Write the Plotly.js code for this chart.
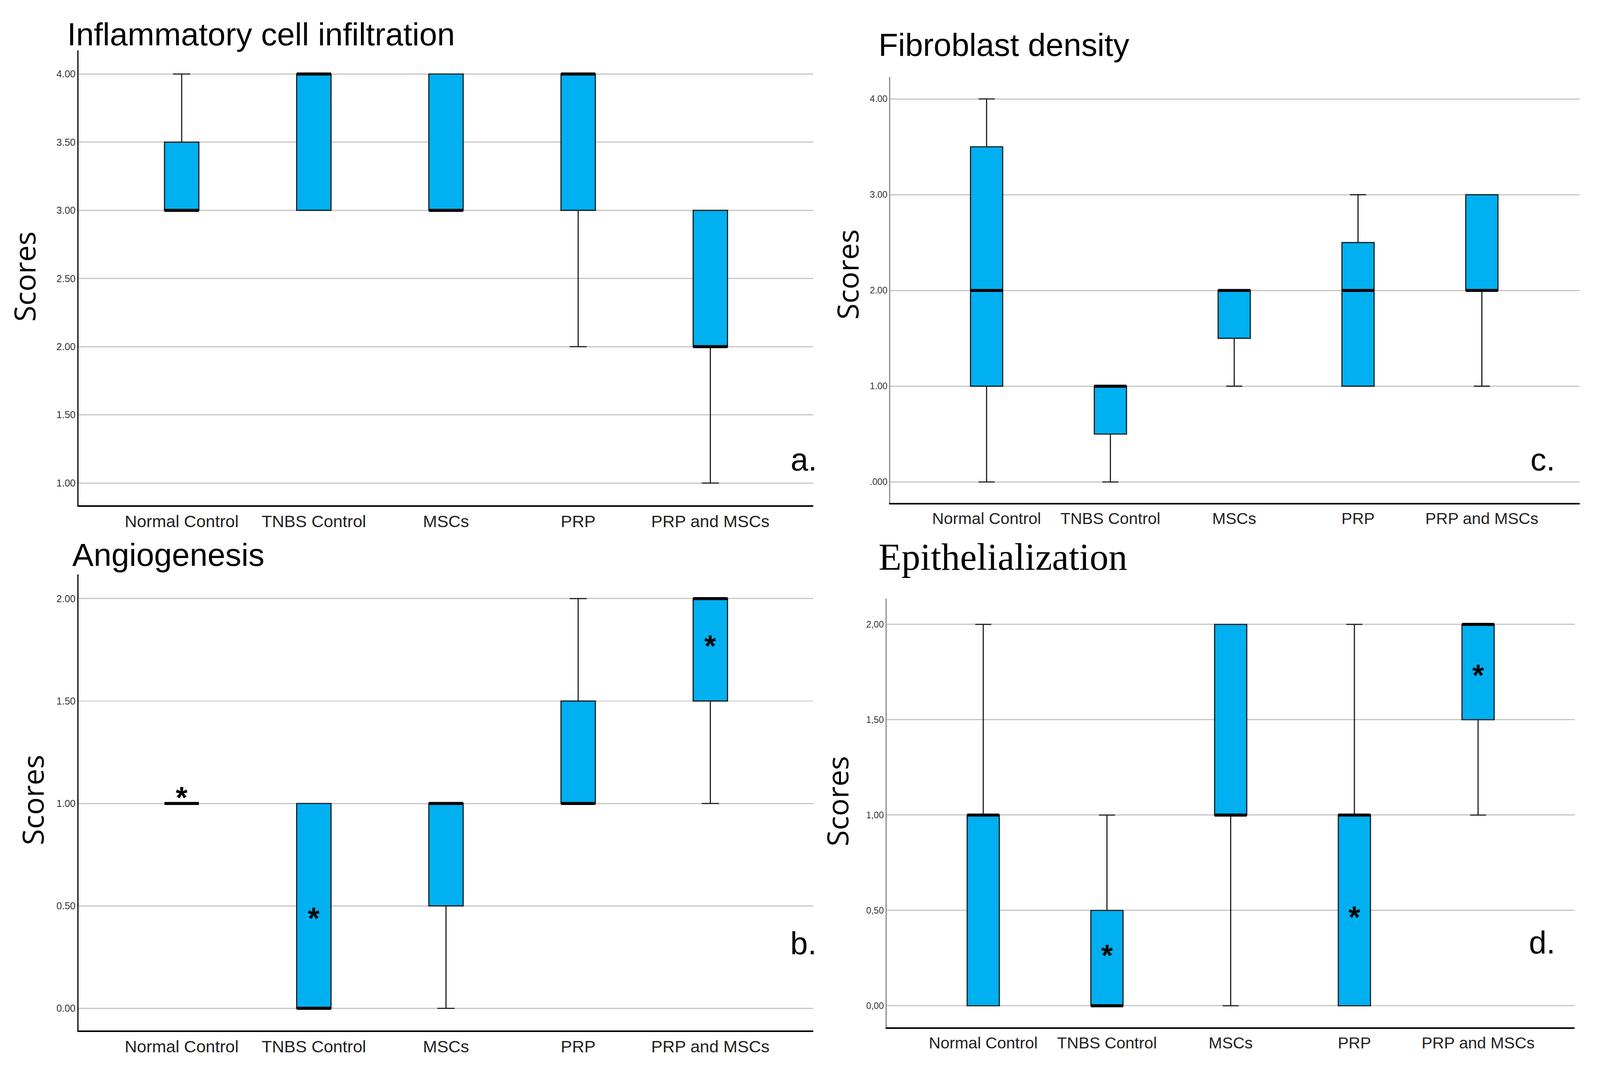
<!DOCTYPE html>
<html>
<head>
<meta charset="utf-8">
<script src="https://cdn.plot.ly/plotly-3.0.1.min.js"></script>
<style>
  html, body { margin: 0; padding: 0; background: #ffffff; overflow: hidden; }
  #chart { position: absolute; left: 0; top: 0; }
</style>
</head>
<body>
<div id="chart"></div>
<script>
// ---------------- DATA ----------------
const categories = ['Normal Control', 'TNBS Control', 'MSCs', 'PRP', 'PRP and MSCs'];

// a. Inflammatory cell infiltration
const inflamLower  = [3, 3, 3, 2, 1];
const inflamQ1     = [3, 3, 3, 3, 2];
const inflamMedian = [3, 4, 3, 4, 2];
const inflamQ3     = [3.5, 4, 4, 4, 3];
const inflamUpper  = [4, 4, 4, 4, 3];
const inflamTicks    = [1, 1.5, 2, 2.5, 3, 3.5, 4];
const inflamTickText = ['1.00', '1.50', '2.00', '2.50', '3.00', '3.50', '4.00'];

// b. Angiogenesis
const angioLower  = [1, 0, 0, 1, 1];
const angioQ1     = [1, 0, 0.5, 1, 1.5];
const angioMedian = [1, 0, 1, 1, 2];
const angioQ3     = [1, 1, 1, 1.5, 2];
const angioUpper  = [1, 1, 1, 2, 2];
const angioStarCats = ['Normal Control', 'TNBS Control', 'PRP and MSCs'];
const angioStarY    = [1.05, 0.46, 1.79];
const angioTicks    = [0, 0.5, 1, 1.5, 2];
const angioTickText = ['0.00', '0.50', '1.00', '1.50', '2.00'];

// c. Fibroblast density
const fibroLower  = [0, 0, 1, 1, 1];
const fibroQ1     = [1, 0.5, 1.5, 1, 2];
const fibroMedian = [2, 1, 2, 2, 2];
const fibroQ3     = [3.5, 1, 2, 2.5, 3];
const fibroUpper  = [4, 1, 2, 3, 3];
const fibroTicks    = [0, 1, 2, 3, 4];
const fibroTickText = ['.000', '1.00', '2.00', '3.00', '4.00'];

// d. Epithelialization
const epiLower  = [0, 0, 0, 0, 1];
const epiQ1     = [0, 0, 1, 0, 1.5];
const epiMedian = [1, 0, 1, 1, 2];
const epiQ3     = [1, 0.5, 2, 1, 2];
const epiUpper  = [2, 1, 2, 2, 2];
const epiStarCats = ['TNBS Control', 'PRP', 'PRP and MSCs'];
const epiStarY    = [0.28, 0.48, 1.75];
const epiTicks    = [0, 0.5, 1, 1.5, 2];
const epiTickText = ['0,00', '0,50', '1,00', '1,50', '2,00'];

// ---------------- STYLE ----------------
const REF_W = 4408, REF_H = 2728;
const W = window.innerWidth || REF_W;
const H = window.innerHeight || REF_H;
const S = Math.sqrt((W / REF_W) * (H / REF_H));   // font / stroke scale
const chartDiv = document.getElementById('chart');
chartDiv.style.width = W + 'px';
chartDiv.style.height = H + 'px';

const BOX_FILL = '#00b0f0';
const BOX_W = 0.26;
const pos = categories.map((c, i) => i);
const idx = c => categories.indexOf(c);
const px = x => x / REF_W;
const py = y => 1 - y / REF_H;
const f = v => v * S;

function boxTrace(xa, ya, lo, q1, med, q3, up) {
  return {
    type: 'box', xaxis: xa, yaxis: ya,
    x: pos, q1: q1, median: med, q3: q3, lowerfence: lo, upperfence: up,
    width: BOX_W, whiskerwidth: 0.5,
    fillcolor: BOX_FILL,
    line: { color: '#1a1a1a', width: f(3) },
    boxpoints: false, showlegend: false, hoverinfo: 'skip'
  };
}
function medianTrace(xa, ya, med) {
  const xs = [], ys = [];
  med.forEach((m, i) => { xs.push(pos[i] - BOX_W / 2, pos[i] + BOX_W / 2, null); ys.push(m, m, null); });
  return {
    type: 'scatter', mode: 'lines', xaxis: xa, yaxis: ya,
    x: xs, y: ys, line: { color: '#000000', width: f(8) },
    showlegend: false, hoverinfo: 'skip'
  };
}

const data = [
  boxTrace('x', 'y', inflamLower, inflamQ1, inflamMedian, inflamQ3, inflamUpper),
  medianTrace('x', 'y', inflamMedian),
  boxTrace('x2', 'y2', angioLower, angioQ1, angioMedian, angioQ3, angioUpper),
  medianTrace('x2', 'y2', angioMedian),
  boxTrace('x3', 'y3', fibroLower, fibroQ1, fibroMedian, fibroQ3, fibroUpper),
  medianTrace('x3', 'y3', fibroMedian),
  boxTrace('x4', 'y4', epiLower, epiQ1, epiMedian, epiQ3, epiUpper),
  medianTrace('x4', 'y4', epiMedian)
];

function xAxis(domain, range, anchor, size) {
  return {
    domain: domain, range: range, anchor: anchor,
    tickmode: 'array', tickvals: pos, ticktext: categories,
    showgrid: false, zeroline: false, showline: true,
    linecolor: '#000000', linewidth: f(4), ticks: '',
    ticklabelstandoff: 0,
    tickfont: { family: 'Liberation Sans, Arial, sans-serif', size: f(size), color: '#222222' },
    fixedrange: true
  };
}
function yAxis(domain, range, anchor, tv, tt, lineColor, size) {
  return {
    domain: domain, range: range, anchor: anchor,
    tickmode: 'array', tickvals: tv, ticktext: tt,
    showgrid: true, gridcolor: '#c6c6c6', gridwidth: f(3),
    zeroline: false, showline: true, linecolor: lineColor, linewidth: f(3),
    ticks: '', ticklabelstandoff: f(6),
    tickfont: { family: 'Liberation Sans, Arial, sans-serif', size: f(size), color: '#333333' },
    fixedrange: true
  };
}

const titleFont = { family: 'Liberation Sans, Arial, sans-serif', size: f(85), color: '#000000' };
const scoresFont = { family: 'Open Sans, DejaVu Sans, sans-serif', size: f(78), color: '#000000' };
const letterFont = { family: 'Liberation Sans, Arial, sans-serif', size: f(84), color: '#000000' };
const starFont = { family: 'Liberation Sans, Arial, sans-serif', size: f(80), color: '#000000' };

const annotations = [];
function paperText(text, x, y, font, xanchor, angle) {
  annotations.push({
    xref: 'paper', yref: 'paper', x: px(x), y: py(y), text: text,
    showarrow: false, xanchor: xanchor || 'left', yanchor: 'middle',
    textangle: angle || 0, font: font
  });
}
// panel titles
paperText('Inflammatory cell infiltration', 183, 88, titleFont);
paperText('Fibroblast density', 2418, 115, titleFont);
paperText('Angiogenesis', 197, 1419, titleFont);
paperText('Epithelialization', 2418, 1425,
  { family: 'Liberation Serif, Times New Roman, serif', size: f(100), color: '#000000' });
// y titles
paperText('Scores', 67, 708, scoresFont, 'center', -90);
paperText('Scores', 89, 2047, scoresFont, 'center', -90);
paperText('Scores', 2334, 702, scoresFont, 'center', -90);
paperText('Scores', 2306, 2050, scoresFont, 'center', -90);
// panel letters
paperText('a.', 2176, 1176, letterFont);
paperText('b.', 2175, 2414, letterFont);
paperText('c.', 4214, 1176, letterFont);
paperText('d.', 4210, 2412, letterFont);
// significance stars
function stars(xa, ya, cats, ys, shift) {
  cats.forEach((c, i) => {
    annotations.push({
      xref: xa, yref: ya, x: idx(c), y: ys[i], text: '<b>*</b>',
      showarrow: false, xanchor: 'center', yanchor: 'middle', yshift: f(shift),
      font: starFont
    });
  });
}
stars('x2', 'y2', angioStarCats, angioStarY, -11);
stars('x4', 'y4', epiStarCats, epiStarY, -8);

const layout = {
  width: W, height: H,
  margin: { l: 0, r: 0, t: 0, b: 0, pad: 0 },
  paper_bgcolor: '#ffffff', plot_bgcolor: '#ffffff',
  showlegend: false,
  xaxis:  xAxis([px(216.5), px(2241)], [-0.78, 4.78], 'y', 45),
  yaxis:  yAxis([py(1293.3), py(129)], [0.836, 4.173], 'x', inflamTicks, inflamTickText, '#000000', 26),
  xaxis2: xAxis([px(216.5), px(2241)], [-0.78, 4.78], 'y2', 45),
  yaxis2: yAxis([py(2637), py(1470)], [-0.108, 2.118], 'x2', angioTicks, angioTickText, '#000000', 26),
  xaxis3: xAxis([px(2453), px(4352)], [-0.777, 4.79], 'y3', 43),
  yaxis3: yAxis([py(1287.3), py(197)], [-0.22, 4.229], 'x3', fibroTicks, fibroTickText, '#8a8a8a', 24),
  xaxis4: xAxis([px(2443), px(4338)], [-0.78, 4.78], 'y4', 43),
  yaxis4: yAxis([py(2629), py(1532)], [-0.113, 2.135], 'x4', epiTicks, epiTickText, '#8a8a8a', 24),
  annotations: annotations
};

Plotly.newPlot('chart', data, layout, { staticPlot: true, displayModeBar: false });
</script>
</body>
</html>
